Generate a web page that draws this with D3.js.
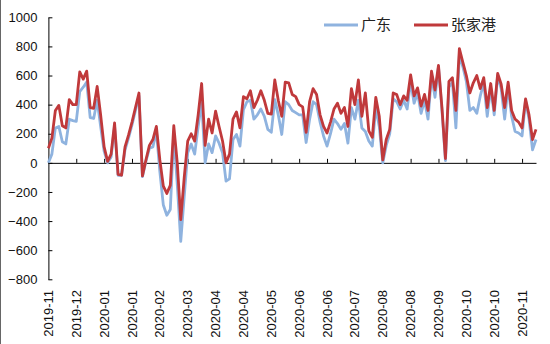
<!DOCTYPE html>
<html>
<head>
<meta charset="utf-8">
<script src="https://cdn.jsdelivr.net/npm/d3@7"></script>
<style>
  html, body { margin: 0; padding: 0; background: #fff; }
  svg { display: block; }
</style>
</head>
<body>
<svg id="chart" width="550" height="344"></svg>
<script>
// ---- data ----
const seriesNames = ["广东", "张家港"];
const tickLabels = ["2019-11","2019-12","2020-01","2020-01","2020-02","2020-03","2020-04","2020-04",
  "2020-05","2020-06","2020-06","2020-07","2020-08","2020-08","2020-09","2020-10","2020-10","2020-11"];
const pointsPerTick = 8;
const yTicks = [-800,-600,-400,-200,0,200,400,600,800,1000];

const zhangjiagang = [100,170,360,395,255,240,435,400,400,625,
  575,630,380,375,525,330,110,10,60,275,
  -80,-85,110,190,280,380,480,-90,20,120,
  160,250,20,-160,-210,-155,255,0,-390,-100,
  150,200,150,330,545,120,300,205,355,250,
  150,0,60,300,350,240,455,440,495,380,
  430,495,430,340,335,570,430,320,555,550,
  470,455,400,385,210,420,510,470,330,250,
  205,280,370,410,340,380,250,510,400,570,
  320,480,220,175,450,320,20,160,230,480,
  470,400,460,430,605,460,515,390,470,360,
  630,500,670,380,30,560,585,360,785,690,
  600,480,550,600,510,585,380,545,360,615,
  540,380,555,360,300,280,240,440,330,160,
  230];

const guangdong = [0,60,240,250,145,130,300,290,285,490,
  520,555,310,305,430,250,80,0,40,250,
  -85,-85,90,170,260,360,460,-95,10,100,
  110,220,-60,-290,-360,-320,200,-150,-540,-230,
  70,130,60,250,420,0,130,70,185,135,
  70,-125,-110,160,195,115,365,420,430,300,
  330,370,320,230,210,435,330,195,420,400,
  360,345,330,330,140,300,420,400,280,185,
  115,200,300,270,230,270,135,380,300,430,
  240,215,150,115,380,250,0,120,200,440,
  420,370,430,370,560,410,480,340,430,300,
  600,450,660,360,15,520,555,240,740,660,
  560,360,380,340,460,550,320,515,330,600,
  510,300,520,320,215,205,185,430,300,90,
  160];

// ---- layout ----
const svg = d3.select("#chart");
const plotL = 48.4, plotR = 536, plotT = 17.3, plotB = 279.3;
const n = zhangjiagang.length;

const x = d3.scaleLinear().domain([0, n - 1]).range([plotL, plotR]);
const y = d3.scaleLinear().domain([-800, 1000]).range([plotB, plotT]);

svg.append("rect").attr("width", 550).attr("height", 344).attr("fill", "#fff");
svg.append("line").attr("x1", 0.5).attr("x2", 0.5).attr("y1", 0).attr("y2", 344)
  .attr("stroke", "#666").attr("stroke-width", 1);

const fontTick = "'Liberation Sans', Arial, sans-serif";

// y axis
const yAxis = d3.axisLeft(y).tickValues(yTicks).tickFormat(d3.format("d"))
  .tickSizeInner(-4).tickSizeOuter(0).tickPadding(11);
const gy = svg.append("g").attr("transform", `translate(${plotL},0)`).call(yAxis);
gy.select(".domain").attr("stroke", "#000");
gy.selectAll(".tick line").attr("stroke", "#000");
gy.selectAll(".tick text").attr("font-family", fontTick).attr("font-size", 13).attr("fill", "#111");

// x axis at zero
const tickIdx = tickLabels.map((d, k) => k * pointsPerTick);
const xAxis = d3.axisBottom(x).tickValues(tickIdx).tickSizeInner(-4).tickSizeOuter(0).tickFormat("");
const gx = svg.append("g").attr("transform", `translate(0,${y(0)})`).call(xAxis);
gx.select(".domain").attr("stroke", "#000");
gx.selectAll(".tick line").attr("stroke", "#000");

// rotated x labels
svg.append("g").selectAll("text").data(tickLabels).join("text")
  .attr("transform", (d, k) => `translate(${x(tickIdx[k])},290) rotate(-90)`)
  .attr("text-anchor", "end")
  .attr("dy", "0.35em")
  .attr("font-family", fontTick).attr("font-size", 13).attr("fill", "#111")
  .text(d => d);

// lines
const colors = ["#8fb3df", "#c0393b"];
const line = d3.line().x((d, i) => x(i)).y(d => y(d)).curve(d3.curveLinear);
[guangdong, zhangjiagang].forEach((s, k) => {
  svg.append("path").datum(s).attr("d", line)
    .attr("fill", "none").attr("stroke", colors[k]).attr("stroke-width", 2.8)
    .attr("stroke-linejoin", "round");
});

// legend
const legend = [{name: seriesNames[0], x: 324, c: colors[0]}, {name: seriesNames[1], x: 414, c: colors[1]}];
const lg = svg.append("g");
legend.forEach(l => {
  lg.append("line").attr("x1", l.x).attr("x2", l.x + 34).attr("y1", 25).attr("y2", 25)
    .attr("stroke", l.c).attr("stroke-width", 3);
  lg.append("text").attr("x", l.x + 37).attr("y", 25).attr("dy", "0.36em")
    .attr("font-family", "'Noto Sans CJK SC', sans-serif").attr("font-size", 15).attr("fill", "#222")
    .text(l.name);
});
</script>
</body>
</html>
